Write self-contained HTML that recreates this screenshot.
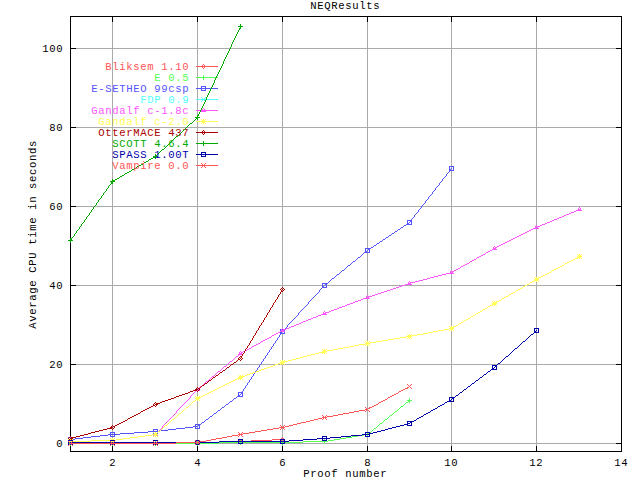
<!DOCTYPE html>
<html><head><meta charset="utf-8"><title>NEQResults</title>
<style>
html,body{margin:0;padding:0;background:#fff;}
svg{display:block;}
text{font-family:"Liberation Mono","DejaVu Sans Mono",monospace;font-size:10.6px;letter-spacing:0.633px;}
</style></head><body>
<svg width="640" height="480" viewBox="0 0 640 480" shape-rendering="crispEdges">
<rect width="640" height="480" fill="#fff"/>
<path fill="#aaaaaa" d="M71 48h550v1h-550zM71 127h550v1h-550zM71 206h550v1h-550zM71 285h550v1h-550zM71 364h550v1h-550zM71 443h550v1h-550zM112 17v31h1v-31zM112 49v78h1v-78zM112 128v78h1v-78zM112 207v78h1v-78zM112 286v78h1v-78zM112 365v78h1v-78zM112 444v7h1v-7zM197 17v31h1v-31zM197 49v78h1v-78zM197 128v78h1v-78zM197 207v78h1v-78zM197 286v78h1v-78zM197 365v78h1v-78zM197 444v7h1v-7zM282 17v31h1v-31zM282 49v78h1v-78zM282 128v78h1v-78zM282 207v78h1v-78zM282 286v78h1v-78zM282 365v78h1v-78zM282 444v7h1v-7zM367 17v31h1v-31zM367 49v78h1v-78zM367 128v78h1v-78zM367 207v78h1v-78zM367 286v78h1v-78zM367 365v78h1v-78zM367 444v7h1v-7zM451 17v31h1v-31zM451 49v78h1v-78zM451 128v78h1v-78zM451 207v78h1v-78zM451 286v78h1v-78zM451 365v78h1v-78zM451 444v7h1v-7zM536 17v31h1v-31zM536 49v78h1v-78zM536 128v78h1v-78zM536 207v78h1v-78zM536 286v78h1v-78zM536 365v78h1v-78zM536 444v7h1v-7z"/>
<path fill="#000" d="M70 16h552v1h-552zM70 48h6v1h-6zM616 48h6v1h-6zM70 127h6v1h-6zM616 127h6v1h-6zM70 206h6v1h-6zM616 206h6v1h-6zM70 285h6v1h-6zM616 285h6v1h-6zM70 364h6v1h-6zM616 364h6v1h-6zM70 443h6v1h-6zM616 443h6v1h-6zM70 451h552v1h-552zM70 17v31h1v-31zM70 49v78h1v-78zM70 128v78h1v-78zM70 207v78h1v-78zM70 286v78h1v-78zM70 365v78h1v-78zM70 444v7h1v-7zM112 17v5h1v-5zM112 446v5h1v-5zM197 17v5h1v-5zM197 446v5h1v-5zM282 17v5h1v-5zM282 446v5h1v-5zM367 17v5h1v-5zM367 446v5h1v-5zM451 17v5h1v-5zM451 446v5h1v-5zM536 17v5h1v-5zM536 446v5h1v-5zM621 17v31h1v-31zM621 49v78h1v-78zM621 128v78h1v-78zM621 207v78h1v-78zM621 286v78h1v-78zM621 365v78h1v-78zM621 444v7h1v-7z"/>
<text x="56.3" y="447" fill="#000">0</text>
<text x="49.3" y="368" fill="#000">20</text>
<text x="49.3" y="289" fill="#000">40</text>
<text x="49.3" y="210" fill="#000">60</text>
<text x="49.3" y="131" fill="#000">80</text>
<text x="42.3" y="52" fill="#000">100</text>
<text x="109.3" y="466" fill="#000">2</text>
<text x="194.3" y="466" fill="#000">4</text>
<text x="279.3" y="466" fill="#000">6</text>
<text x="364.3" y="466" fill="#000">8</text>
<text x="444.3" y="466" fill="#000">10</text>
<text x="529.3" y="466" fill="#000">12</text>
<text x="614.3" y="466" fill="#000">14</text>
<text x="310.3" y="9" fill="#000">NEQResults</text>
<text x="303.3" y="477" fill="#000">Proof number</text>
<text transform="translate(36 328.7) rotate(-90)" fill="#000">Average CPU time in seconds</text>
<text x="105.3" y="70" fill="#ff5555">Bliksem 1.10</text>
<path fill="#ff5555" d="M196 66h22v1h-22zM272 439h11v1h-11zM251 440h21v1h-21zM219 441h32v1h-32zM176 442h43v1h-43zM70 443h106v1h-106zM68 443v1h1v-1zM69 442v1h1v-1zM69 444v1h1v-1zM70 441v1h1v-1zM70 445v1h1v-1zM71 442v1h1v-1zM71 444v1h1v-1zM111 442v1h1v-1zM111 444v1h1v-1zM112 441v1h1v-1zM112 445v1h1v-1zM113 442v1h1v-1zM113 444v1h1v-1zM154 442v1h1v-1zM154 444v1h1v-1zM155 441v1h1v-1zM155 445v1h1v-1zM156 442v1h1v-1zM156 444v1h1v-1zM196 441v1h1v-1zM196 443v1h1v-1zM197 440v1h1v-1zM197 444v1h1v-1zM198 441v1h1v-1zM198 443v1h1v-1zM202 65v1h1v-1zM202 67v1h1v-1zM203 64v1h1v-1zM203 68v1h1v-1zM204 65v1h1v-1zM204 67v1h1v-1zM239 440v1h1v-1zM239 442v1h1v-1zM240 439v1h1v-1zM240 443v1h1v-1zM241 440v1h1v-1zM241 442v1h1v-1zM281 438v1h1v-1zM281 440v1h1v-1zM282 437v1h1v-1zM282 441v1h1v-1zM283 438v1h1v-1zM283 440v1h1v-1zM284 439v1h1v-1z"/>
<text x="154.3" y="81" fill="#55ff55">E 0.5</text>
<path fill="#55ff55" d="M196 77h22v1h-22zM407 400h5v1h-5zM408 401h2v1h-2zM406 402h2v1h-2zM401 406h2v1h-2zM395 411h2v1h-2zM390 415h2v1h-2zM385 419h2v1h-2zM380 423h2v1h-2zM374 428h2v1h-2zM369 432h2v1h-2zM367 433h2v1h-2zM364 434h6v1h-6zM358 435h6v1h-6zM352 436h6v1h-6zM346 437h6v1h-6zM340 438h6v1h-6zM334 439h6v1h-6zM328 440h6v1h-6zM303 441h25v1h-25zM219 442h84v1h-84zM68 443h151v1h-151zM70 441v2h1v-2zM70 444v2h1v-2zM112 441v2h1v-2zM112 444v2h1v-2zM155 441v2h1v-2zM155 444v2h1v-2zM197 441v2h1v-2zM197 444v2h1v-2zM203 75v2h1v-2zM203 78v2h1v-2zM240 440v2h1v-2zM240 443v2h1v-2zM282 440v2h1v-2zM282 443v2h1v-2zM324 439v2h1v-2zM324 442v2h1v-2zM367 432v1h1v-1zM367 435v2h1v-2zM371 431v1h1v-1zM372 430v1h1v-1zM373 429v1h1v-1zM376 427v1h1v-1zM377 426v1h1v-1zM378 425v1h1v-1zM379 424v1h1v-1zM382 422v1h1v-1zM383 421v1h1v-1zM384 420v1h1v-1zM387 418v1h1v-1zM388 417v1h1v-1zM389 416v1h1v-1zM392 414v1h1v-1zM393 413v1h1v-1zM394 412v1h1v-1zM397 410v1h1v-1zM398 409v1h1v-1zM399 408v1h1v-1zM400 407v1h1v-1zM403 405v1h1v-1zM404 404v1h1v-1zM405 403v1h1v-1zM409 398v2h1v-2zM409 402v1h1v-1z"/>
<text x="91.3" y="92" fill="#5555ff">E-SETHEO 99csp</text>
<path fill="#5555ff" d="M201 86h5v1h-5zM196 88h22v1h-22zM201 90h5v1h-5zM449 166h5v1h-5zM449 169h2v1h-2zM449 170h5v1h-5zM407 220h5v1h-5zM410 221h2v1h-2zM407 223h2v1h-2zM406 224h6v1h-6zM404 225h2v1h-2zM401 227h2v1h-2zM398 229h2v1h-2zM395 231h2v1h-2zM392 233h2v1h-2zM389 235h2v1h-2zM386 237h2v1h-2zM383 239h2v1h-2zM380 241h2v1h-2zM377 243h2v1h-2zM374 245h2v1h-2zM371 247h2v1h-2zM365 248h6v1h-6zM368 249h2v1h-2zM365 251h2v1h-2zM364 252h6v1h-6zM358 257h2v1h-2zM353 261h2v1h-2zM348 265h2v1h-2zM342 270h2v1h-2zM337 274h2v1h-2zM332 278h2v1h-2zM322 283h6v1h-6zM325 284h2v1h-2zM322 286h2v1h-2zM322 287h5v1h-5zM280 329h5v1h-5zM283 330h2v1h-2zM280 332h2v1h-2zM280 333h5v1h-5zM238 392h5v1h-5zM241 393h2v1h-2zM238 395h2v1h-2zM237 396h6v1h-6zM234 398h2v1h-2zM230 401h2v1h-2zM226 404h2v1h-2zM222 407h2v1h-2zM218 410h2v1h-2zM214 413h2v1h-2zM210 416h2v1h-2zM206 419h2v1h-2zM202 422h2v1h-2zM195 424h6v1h-6zM198 425h2v1h-2zM193 426h5v1h-5zM185 427h8v1h-8zM176 428h9v1h-9zM195 428h5v1h-5zM153 429h5v1h-5zM168 429h8v1h-8zM160 430h8v1h-8zM148 431h12v1h-12zM110 432h5v1h-5zM134 432h14v1h-14zM120 433h14v1h-14zM153 433h5v1h-5zM108 434h12v1h-12zM100 435h8v1h-8zM91 436h9v1h-9zM110 436h5v1h-5zM68 437h5v1h-5zM83 437h8v1h-8zM75 438h8v1h-8zM70 439h5v1h-5zM68 441h5v1h-5zM68 438v3h1v-3zM72 438v1h1v-1zM72 440v1h1v-1zM110 433v1h1v-1zM110 435v1h1v-1zM114 433v1h1v-1zM114 435v1h1v-1zM153 430v1h1v-1zM153 432v1h1v-1zM157 430v1h1v-1zM157 432v1h1v-1zM195 425v1h1v-1zM195 427v1h1v-1zM199 426v2h1v-2zM201 87v1h1v-1zM201 89v1h1v-1zM201 423v1h1v-1zM204 421v1h1v-1zM205 87v1h1v-1zM205 89v1h1v-1zM205 420v1h1v-1zM208 418v1h1v-1zM209 417v1h1v-1zM212 415v1h1v-1zM213 414v1h1v-1zM216 412v1h1v-1zM217 411v1h1v-1zM220 409v1h1v-1zM221 408v1h1v-1zM224 406v1h1v-1zM225 405v1h1v-1zM228 403v1h1v-1zM229 402v1h1v-1zM232 400v1h1v-1zM233 399v1h1v-1zM236 397v1h1v-1zM238 393v2h1v-2zM240 394v1h1v-1zM242 391v1h1v-1zM242 394v2h1v-2zM243 389v2h1v-2zM244 388v1h1v-1zM245 386v2h1v-2zM246 385v1h1v-1zM247 383v2h1v-2zM248 382v1h1v-1zM249 380v2h1v-2zM250 379v1h1v-1zM251 377v2h1v-2zM252 376v1h1v-1zM253 374v2h1v-2zM254 373v1h1v-1zM255 371v2h1v-2zM256 370v1h1v-1zM257 368v2h1v-2zM258 367v1h1v-1zM259 365v2h1v-2zM260 364v1h1v-1zM261 362v2h1v-2zM262 361v1h1v-1zM263 359v2h1v-2zM264 358v1h1v-1zM265 356v2h1v-2zM266 355v1h1v-1zM267 353v2h1v-2zM268 352v1h1v-1zM269 350v2h1v-2zM270 349v1h1v-1zM271 347v2h1v-2zM272 346v1h1v-1zM273 344v2h1v-2zM274 343v1h1v-1zM275 341v2h1v-2zM276 340v1h1v-1zM277 338v2h1v-2zM278 337v1h1v-1zM279 335v2h1v-2zM280 330v2h1v-2zM280 334v1h1v-1zM282 331v1h1v-1zM284 331v2h1v-2zM285 328v1h1v-1zM286 327v1h1v-1zM287 325v2h1v-2zM288 324v1h1v-1zM289 323v1h1v-1zM290 322v1h1v-1zM291 321v1h1v-1zM292 320v1h1v-1zM293 319v1h1v-1zM294 318v1h1v-1zM295 317v1h1v-1zM296 316v1h1v-1zM297 315v1h1v-1zM298 313v2h1v-2zM299 312v1h1v-1zM300 311v1h1v-1zM301 310v1h1v-1zM302 309v1h1v-1zM303 308v1h1v-1zM304 307v1h1v-1zM305 306v1h1v-1zM306 305v1h1v-1zM307 304v1h1v-1zM308 302v2h1v-2zM309 301v1h1v-1zM310 300v1h1v-1zM311 299v1h1v-1zM312 298v1h1v-1zM313 297v1h1v-1zM314 296v1h1v-1zM315 295v1h1v-1zM316 294v1h1v-1zM317 293v1h1v-1zM318 292v1h1v-1zM319 290v2h1v-2zM320 289v1h1v-1zM321 288v1h1v-1zM322 284v2h1v-2zM324 285v1h1v-1zM326 285v2h1v-2zM328 282v1h1v-1zM329 281v1h1v-1zM330 280v1h1v-1zM331 279v1h1v-1zM334 277v1h1v-1zM335 276v1h1v-1zM336 275v1h1v-1zM339 273v1h1v-1zM340 272v1h1v-1zM341 271v1h1v-1zM344 269v1h1v-1zM345 268v1h1v-1zM346 267v1h1v-1zM347 266v1h1v-1zM350 264v1h1v-1zM351 263v1h1v-1zM352 262v1h1v-1zM355 260v1h1v-1zM356 259v1h1v-1zM357 258v1h1v-1zM360 256v1h1v-1zM361 255v1h1v-1zM362 254v1h1v-1zM363 253v1h1v-1zM365 249v2h1v-2zM367 250v1h1v-1zM369 250v2h1v-2zM373 246v1h1v-1zM376 244v1h1v-1zM379 242v1h1v-1zM382 240v1h1v-1zM385 238v1h1v-1zM388 236v1h1v-1zM391 234v1h1v-1zM394 232v1h1v-1zM397 230v1h1v-1zM400 228v1h1v-1zM403 226v1h1v-1zM407 221v2h1v-2zM409 222v1h1v-1zM411 219v1h1v-1zM411 222v2h1v-2zM412 218v1h1v-1zM413 217v1h1v-1zM414 215v2h1v-2zM415 214v1h1v-1zM416 213v1h1v-1zM417 212v1h1v-1zM418 210v2h1v-2zM419 209v1h1v-1zM420 208v1h1v-1zM421 206v2h1v-2zM422 205v1h1v-1zM423 204v1h1v-1zM424 203v1h1v-1zM425 201v2h1v-2zM426 200v1h1v-1zM427 199v1h1v-1zM428 197v2h1v-2zM429 196v1h1v-1zM430 195v1h1v-1zM431 194v1h1v-1zM432 192v2h1v-2zM433 191v1h1v-1zM434 190v1h1v-1zM435 188v2h1v-2zM436 187v1h1v-1zM437 186v1h1v-1zM438 185v1h1v-1zM439 183v2h1v-2zM440 182v1h1v-1zM441 181v1h1v-1zM442 179v2h1v-2zM443 178v1h1v-1zM444 177v1h1v-1zM445 176v1h1v-1zM446 174v2h1v-2zM447 173v1h1v-1zM448 172v1h1v-1zM449 167v2h1v-2zM449 171v1h1v-1zM451 168v1h1v-1zM453 167v3h1v-3z"/>
<text x="140.3" y="103" fill="#55ffff">FDP 0.9</text>
<path fill="#55ffff" d="M196 99h22v1h-22zM201 97v1h1v-1zM201 101v1h1v-1zM202 98v1h1v-1zM202 100v1h1v-1zM204 98v1h1v-1zM204 100v1h1v-1zM205 97v1h1v-1zM205 101v1h1v-1z"/>
<text x="91.3" y="114" fill="#ff55ff">Gandalf c-1.8c</text>
<path fill="#ff55ff" d="M196 110h22v1h-22zM201 111h5v1h-5zM578 209h3v1h-3zM576 210h6v1h-6zM574 211h2v1h-2zM571 212h3v1h-3zM569 213h2v1h-2zM566 214h3v1h-3zM564 215h2v1h-2zM562 216h2v1h-2zM559 217h3v1h-3zM557 218h2v1h-2zM554 219h3v1h-3zM552 220h2v1h-2zM550 221h2v1h-2zM547 222h3v1h-3zM545 223h2v1h-2zM542 224h3v1h-3zM540 225h2v1h-2zM537 226h3v1h-3zM535 227h3v1h-3zM533 228h6v1h-6zM531 229h2v1h-2zM529 230h2v1h-2zM527 231h2v1h-2zM525 232h2v1h-2zM523 233h2v1h-2zM521 234h2v1h-2zM519 235h2v1h-2zM517 236h2v1h-2zM515 237h2v1h-2zM513 238h2v1h-2zM511 239h2v1h-2zM509 240h2v1h-2zM507 241h2v1h-2zM505 242h2v1h-2zM503 243h2v1h-2zM501 244h2v1h-2zM499 245h2v1h-2zM497 246h2v1h-2zM495 247h2v1h-2zM493 248h3v1h-3zM492 249h5v1h-5zM490 250h2v1h-2zM488 251h2v1h-2zM486 252h2v1h-2zM483 254h2v1h-2zM481 255h2v1h-2zM479 256h2v1h-2zM477 257h2v1h-2zM474 259h2v1h-2zM472 260h2v1h-2zM470 261h2v1h-2zM467 263h2v1h-2zM465 264h2v1h-2zM463 265h2v1h-2zM461 266h2v1h-2zM458 268h2v1h-2zM456 269h2v1h-2zM454 270h2v1h-2zM452 271h2v1h-2zM450 272h3v1h-3zM446 273h8v1h-8zM442 274h4v1h-4zM438 275h4v1h-4zM434 276h4v1h-4zM430 277h4v1h-4zM427 278h3v1h-3zM423 279h4v1h-4zM419 280h4v1h-4zM415 281h4v1h-4zM410 282h5v1h-5zM408 283h3v1h-3zM405 284h7v1h-7zM402 285h3v1h-3zM399 286h3v1h-3zM396 287h3v1h-3zM393 288h3v1h-3zM390 289h3v1h-3zM387 290h3v1h-3zM384 291h3v1h-3zM381 292h3v1h-3zM378 293h3v1h-3zM375 294h3v1h-3zM372 295h3v1h-3zM368 296h4v1h-4zM366 297h3v1h-3zM363 298h7v1h-7zM361 299h2v1h-2zM358 300h3v1h-3zM355 301h3v1h-3zM353 302h2v1h-2zM350 303h3v1h-3zM347 304h3v1h-3zM345 305h2v1h-2zM342 306h3v1h-3zM339 307h3v1h-3zM337 308h2v1h-2zM334 309h3v1h-3zM331 310h3v1h-3zM329 311h2v1h-2zM325 312h4v1h-4zM323 313h3v1h-3zM321 314h6v1h-6zM318 315h3v1h-3zM316 316h2v1h-2zM313 317h3v1h-3zM311 318h2v1h-2zM308 319h3v1h-3zM306 320h2v1h-2zM303 321h3v1h-3zM301 322h2v1h-2zM299 323h2v1h-2zM296 324h3v1h-3zM294 325h2v1h-2zM291 326h3v1h-3zM289 327h2v1h-2zM286 328h3v1h-3zM283 329h3v1h-3zM281 330h3v1h-3zM280 331h5v1h-5zM278 332h2v1h-2zM276 333h2v1h-2zM274 334h2v1h-2zM272 335h2v1h-2zM269 337h2v1h-2zM267 338h2v1h-2zM265 339h2v1h-2zM263 340h2v1h-2zM261 341h2v1h-2zM258 343h2v1h-2zM256 344h2v1h-2zM254 345h2v1h-2zM252 346h2v1h-2zM249 348h2v1h-2zM247 349h2v1h-2zM245 350h2v1h-2zM243 351h2v1h-2zM241 352h2v1h-2zM239 353h3v1h-3zM238 354h5v1h-5zM236 356h2v1h-2zM230 361h2v1h-2zM224 366h2v1h-2zM218 371h2v1h-2zM212 376h2v1h-2zM206 381h2v1h-2zM200 386h2v1h-2zM196 389h3v1h-3zM195 390h5v1h-5zM154 434h3v1h-3zM153 435h5v1h-5zM154 433v1h1v-1zM155 432v1h1v-1zM156 433v1h1v-1zM157 432v1h1v-1zM158 431v1h1v-1zM159 430v1h1v-1zM160 429v1h1v-1zM161 428v1h1v-1zM162 426v2h1v-2zM163 425v1h1v-1zM164 424v1h1v-1zM165 423v1h1v-1zM166 422v1h1v-1zM167 421v1h1v-1zM168 420v1h1v-1zM169 419v1h1v-1zM170 418v1h1v-1zM171 417v1h1v-1zM172 416v1h1v-1zM173 415v1h1v-1zM174 414v1h1v-1zM175 413v1h1v-1zM176 411v2h1v-2zM177 410v1h1v-1zM178 409v1h1v-1zM179 408v1h1v-1zM180 407v1h1v-1zM181 406v1h1v-1zM182 405v1h1v-1zM183 404v1h1v-1zM184 403v1h1v-1zM185 402v1h1v-1zM186 401v1h1v-1zM187 400v1h1v-1zM188 399v1h1v-1zM189 398v1h1v-1zM190 396v2h1v-2zM191 395v1h1v-1zM192 394v1h1v-1zM193 393v1h1v-1zM194 392v1h1v-1zM195 391v1h1v-1zM196 388v1h1v-1zM197 387v1h1v-1zM198 388v1h1v-1zM199 387v1h1v-1zM202 109v1h1v-1zM202 385v1h1v-1zM203 108v1h1v-1zM203 384v1h1v-1zM204 109v1h1v-1zM204 383v1h1v-1zM205 382v1h1v-1zM208 380v1h1v-1zM209 379v1h1v-1zM210 378v1h1v-1zM211 377v1h1v-1zM214 375v1h1v-1zM215 374v1h1v-1zM216 373v1h1v-1zM217 372v1h1v-1zM220 370v1h1v-1zM221 369v1h1v-1zM222 368v1h1v-1zM223 367v1h1v-1zM226 365v1h1v-1zM227 364v1h1v-1zM228 363v1h1v-1zM229 362v1h1v-1zM232 360v1h1v-1zM233 359v1h1v-1zM234 358v1h1v-1zM235 357v1h1v-1zM238 355v1h1v-1zM239 352v1h1v-1zM240 351v1h1v-1zM251 347v1h1v-1zM260 342v1h1v-1zM271 336v1h1v-1zM281 329v1h1v-1zM282 328v1h1v-1zM323 312v1h1v-1zM324 311v1h1v-1zM366 296v1h1v-1zM367 295v1h1v-1zM408 282v1h1v-1zM409 281v1h1v-1zM450 271v1h1v-1zM451 270v1h1v-1zM460 267v1h1v-1zM469 262v1h1v-1zM476 258v1h1v-1zM485 253v1h1v-1zM493 247v1h1v-1zM494 246v1h1v-1zM535 226v1h1v-1zM536 225v1h1v-1zM578 208v1h1v-1zM579 207v1h1v-1zM580 208v1h1v-1z"/>
<text x="98.3" y="125" fill="#ffff55">Gandalf c-2.0</text>
<path fill="#ffff55" d="M202 120h3v1h-3zM196 121h22v1h-22zM202 122h3v1h-3zM578 255h3v1h-3zM577 256h5v1h-5zM577 257h4v1h-4zM575 258h3v1h-3zM573 259h2v1h-2zM571 260h2v1h-2zM569 261h2v1h-2zM567 262h2v1h-2zM565 263h2v1h-2zM562 265h2v1h-2zM560 266h2v1h-2zM558 267h2v1h-2zM556 268h2v1h-2zM554 269h2v1h-2zM552 270h2v1h-2zM549 272h2v1h-2zM547 273h2v1h-2zM545 274h2v1h-2zM543 275h2v1h-2zM541 276h2v1h-2zM538 277h3v1h-3zM535 278h4v1h-4zM534 279h5v1h-5zM534 280h4v1h-4zM532 281h3v1h-3zM530 282h2v1h-2zM527 284h2v1h-2zM525 285h2v1h-2zM523 286h2v1h-2zM520 288h2v1h-2zM518 289h2v1h-2zM516 290h2v1h-2zM513 292h2v1h-2zM511 293h2v1h-2zM509 294h2v1h-2zM506 296h2v1h-2zM504 297h2v1h-2zM502 298h2v1h-2zM499 300h2v1h-2zM496 301h3v1h-3zM493 302h4v1h-4zM492 303h5v1h-5zM492 304h4v1h-4zM490 305h3v1h-3zM488 306h2v1h-2zM485 308h2v1h-2zM483 309h2v1h-2zM480 311h2v1h-2zM478 312h2v1h-2zM476 313h2v1h-2zM473 315h2v1h-2zM471 316h2v1h-2zM468 318h2v1h-2zM466 319h2v1h-2zM464 320h2v1h-2zM461 322h2v1h-2zM459 323h2v1h-2zM456 325h2v1h-2zM453 326h3v1h-3zM450 327h4v1h-4zM449 328h5v1h-5zM444 329h5v1h-5zM450 329h3v1h-3zM438 330h6v1h-6zM433 331h5v1h-5zM428 332h5v1h-5zM423 333h5v1h-5zM417 334h6v1h-6zM408 335h3v1h-3zM412 335h5v1h-5zM406 336h6v1h-6zM400 337h6v1h-6zM408 337h3v1h-3zM394 338h6v1h-6zM388 339h6v1h-6zM382 340h6v1h-6zM376 341h6v1h-6zM366 342h3v1h-3zM370 342h6v1h-6zM365 343h5v1h-5zM359 344h6v1h-6zM366 344h3v1h-3zM354 345h5v1h-5zM349 346h5v1h-5zM343 347h6v1h-6zM338 348h5v1h-5zM333 349h5v1h-5zM323 350h3v1h-3zM327 350h6v1h-6zM322 351h5v1h-5zM319 352h7v1h-7zM315 353h4v1h-4zM311 354h4v1h-4zM307 355h4v1h-4zM303 356h4v1h-4zM300 357h3v1h-3zM296 358h4v1h-4zM292 359h4v1h-4zM288 360h4v1h-4zM281 361h7v1h-7zM280 362h5v1h-5zM278 363h6v1h-6zM275 364h3v1h-3zM273 365h2v1h-2zM270 366h3v1h-3zM267 367h3v1h-3zM264 368h3v1h-3zM261 369h3v1h-3zM259 370h2v1h-2zM256 371h3v1h-3zM253 372h3v1h-3zM250 373h3v1h-3zM247 374h3v1h-3zM245 375h2v1h-2zM239 376h6v1h-6zM238 377h5v1h-5zM237 378h5v1h-5zM235 379h2v1h-2zM233 380h2v1h-2zM231 381h2v1h-2zM229 382h2v1h-2zM227 383h2v1h-2zM225 384h2v1h-2zM223 385h2v1h-2zM221 386h2v1h-2zM219 387h2v1h-2zM217 388h2v1h-2zM215 389h2v1h-2zM213 390h2v1h-2zM211 391h2v1h-2zM209 392h2v1h-2zM207 393h2v1h-2zM205 394h2v1h-2zM203 395h2v1h-2zM201 396h2v1h-2zM196 397h5v1h-5zM195 398h5v1h-5zM196 399h3v1h-3zM193 401h2v1h-2zM186 407h2v1h-2zM179 413h2v1h-2zM172 419h2v1h-2zM165 425h2v1h-2zM158 431h2v1h-2zM154 433h3v1h-3zM152 434h6v1h-6zM145 435h7v1h-7zM154 435h3v1h-3zM138 436h7v1h-7zM130 437h8v1h-8zM123 438h7v1h-7zM111 439h3v1h-3zM116 439h7v1h-7zM69 440h3v1h-3zM91 440h25v1h-25zM68 441h23v1h-23zM111 441h3v1h-3zM69 442h3v1h-3zM68 439v1h1v-1zM68 443v1h1v-1zM70 439v1h1v-1zM70 443v1h1v-1zM72 439v1h1v-1zM72 443v1h1v-1zM110 438v1h1v-1zM110 442v1h1v-1zM112 438v1h1v-1zM112 442v1h1v-1zM114 438v1h1v-1zM114 442v1h1v-1zM153 432v1h1v-1zM153 436v1h1v-1zM155 432v1h1v-1zM155 436v1h1v-1zM157 432v1h1v-1zM157 436v1h1v-1zM160 430v1h1v-1zM161 429v1h1v-1zM162 428v1h1v-1zM163 427v1h1v-1zM164 426v1h1v-1zM167 424v1h1v-1zM168 423v1h1v-1zM169 422v1h1v-1zM170 421v1h1v-1zM171 420v1h1v-1zM174 418v1h1v-1zM175 417v1h1v-1zM176 416v1h1v-1zM177 415v1h1v-1zM178 414v1h1v-1zM181 412v1h1v-1zM182 411v1h1v-1zM183 410v1h1v-1zM184 409v1h1v-1zM185 408v1h1v-1zM188 406v1h1v-1zM189 405v1h1v-1zM190 404v1h1v-1zM191 403v1h1v-1zM192 402v1h1v-1zM195 396v1h1v-1zM195 400v1h1v-1zM197 396v1h1v-1zM197 400v1h1v-1zM199 396v1h1v-1zM199 400v1h1v-1zM201 119v1h1v-1zM201 123v1h1v-1zM203 119v1h1v-1zM203 123v1h1v-1zM205 119v1h1v-1zM205 123v1h1v-1zM238 375v1h1v-1zM238 379v1h1v-1zM240 375v1h1v-1zM240 379v1h1v-1zM242 375v1h1v-1zM242 379v1h1v-1zM280 360v1h1v-1zM280 364v1h1v-1zM282 360v1h1v-1zM282 364v1h1v-1zM284 360v1h1v-1zM284 364v1h1v-1zM322 349v1h1v-1zM322 353v1h1v-1zM324 349v1h1v-1zM324 353v1h1v-1zM326 349v1h1v-1zM326 353v1h1v-1zM365 341v1h1v-1zM365 345v1h1v-1zM367 341v1h1v-1zM367 345v1h1v-1zM369 341v1h1v-1zM369 345v1h1v-1zM407 334v1h1v-1zM407 338v1h1v-1zM409 334v1h1v-1zM409 338v1h1v-1zM411 334v1h1v-1zM411 338v1h1v-1zM449 326v1h1v-1zM449 330v1h1v-1zM451 326v1h1v-1zM451 330v1h1v-1zM453 330v1h1v-1zM458 324v1h1v-1zM463 321v1h1v-1zM470 317v1h1v-1zM475 314v1h1v-1zM482 310v1h1v-1zM487 307v1h1v-1zM492 301v1h1v-1zM494 301v1h1v-1zM494 305v1h1v-1zM496 305v1h1v-1zM501 299v1h1v-1zM508 295v1h1v-1zM515 291v1h1v-1zM522 287v1h1v-1zM529 283v1h1v-1zM534 277v1h1v-1zM536 277v1h1v-1zM536 281v1h1v-1zM538 281v1h1v-1zM551 271v1h1v-1zM564 264v1h1v-1zM577 254v1h1v-1zM579 254v1h1v-1zM579 258v1h1v-1zM581 254v1h1v-1zM581 258v1h1v-1z"/>
<text x="98.3" y="136" fill="#aa0000">OtterMACE 437</text>
<path fill="#aa0000" d="M196 132h22v1h-22zM281 291h2v1h-2zM240 356h2v1h-2zM238 359h2v1h-2zM234 362h2v1h-2zM231 364h2v1h-2zM227 367h2v1h-2zM223 370h2v1h-2zM220 372h2v1h-2zM216 375h2v1h-2zM213 377h2v1h-2zM209 380h2v1h-2zM205 383h2v1h-2zM202 385h2v1h-2zM198 388h2v1h-2zM195 389h3v1h-3zM193 390h4v1h-4zM190 391h3v1h-3zM188 392h2v1h-2zM185 393h3v1h-3zM182 394h3v1h-3zM179 395h3v1h-3zM176 396h3v1h-3zM174 397h2v1h-2zM171 398h3v1h-3zM168 399h3v1h-3zM165 400h3v1h-3zM162 401h3v1h-3zM160 402h2v1h-2zM156 403h4v1h-4zM155 404h3v1h-3zM153 405h2v1h-2zM151 406h2v1h-2zM149 407h2v1h-2zM147 408h2v1h-2zM145 409h2v1h-2zM143 410h2v1h-2zM141 411h2v1h-2zM138 413h2v1h-2zM136 414h2v1h-2zM134 415h2v1h-2zM132 416h2v1h-2zM130 417h2v1h-2zM128 418h2v1h-2zM125 420h2v1h-2zM123 421h2v1h-2zM121 422h2v1h-2zM119 423h2v1h-2zM117 424h2v1h-2zM115 425h2v1h-2zM113 426h2v1h-2zM110 427h3v1h-3zM107 428h5v1h-5zM103 429h4v1h-4zM99 430h4v1h-4zM95 431h4v1h-4zM91 432h4v1h-4zM88 433h3v1h-3zM84 434h4v1h-4zM80 435h4v1h-4zM76 436h4v1h-4zM71 437h5v1h-5zM70 438h3v1h-3zM68 438v1h1v-1zM69 437v1h1v-1zM69 439v1h1v-1zM70 436v1h1v-1zM70 440v1h1v-1zM71 439v1h1v-1zM111 426v1h1v-1zM112 425v1h1v-1zM112 429v1h1v-1zM113 428v1h1v-1zM114 427v1h1v-1zM127 419v1h1v-1zM140 412v1h1v-1zM153 404v1h1v-1zM154 403v1h1v-1zM155 402v1h1v-1zM155 406v1h1v-1zM156 405v1h1v-1zM196 388v1h1v-1zM197 387v1h1v-1zM197 391v1h1v-1zM198 390v1h1v-1zM199 389v1h1v-1zM200 387v1h1v-1zM201 386v1h1v-1zM202 131v1h1v-1zM202 133v1h1v-1zM203 130v1h1v-1zM203 134v1h1v-1zM204 131v1h1v-1zM204 133v1h1v-1zM204 384v1h1v-1zM207 382v1h1v-1zM208 381v1h1v-1zM211 379v1h1v-1zM212 378v1h1v-1zM215 376v1h1v-1zM218 374v1h1v-1zM219 373v1h1v-1zM222 371v1h1v-1zM225 369v1h1v-1zM226 368v1h1v-1zM229 366v1h1v-1zM230 365v1h1v-1zM233 363v1h1v-1zM236 361v1h1v-1zM237 360v1h1v-1zM238 358v1h1v-1zM239 357v1h1v-1zM240 358v1h1v-1zM240 360v1h1v-1zM241 357v1h1v-1zM241 359v1h1v-1zM242 354v2h1v-2zM242 358v1h1v-1zM243 353v1h1v-1zM244 351v2h1v-2zM245 349v2h1v-2zM246 348v1h1v-1zM247 346v2h1v-2zM248 345v1h1v-1zM249 343v2h1v-2zM250 341v2h1v-2zM251 340v1h1v-1zM252 338v2h1v-2zM253 336v2h1v-2zM254 335v1h1v-1zM255 333v2h1v-2zM256 331v2h1v-2zM257 330v1h1v-1zM258 328v2h1v-2zM259 326v2h1v-2zM260 325v1h1v-1zM261 323v2h1v-2zM262 322v1h1v-1zM263 320v2h1v-2zM264 318v2h1v-2zM265 317v1h1v-1zM266 315v2h1v-2zM267 313v2h1v-2zM268 312v1h1v-1zM269 310v2h1v-2zM270 308v2h1v-2zM271 307v1h1v-1zM272 305v2h1v-2zM273 303v2h1v-2zM274 302v1h1v-1zM275 300v2h1v-2zM276 299v1h1v-1zM277 297v2h1v-2zM278 295v2h1v-2zM279 294v1h1v-1zM280 289v1h1v-1zM280 292v2h1v-2zM281 288v1h1v-1zM281 290v1h1v-1zM282 287v1h1v-1zM282 289v1h1v-1zM283 288v1h1v-1zM283 290v1h1v-1zM284 289v1h1v-1z"/>
<text x="112.3" y="147" fill="#00aa00">SCOTT 4.6.4</text>
<path fill="#00aa00" d="M238 26h5v1h-5zM239 28h2v1h-2zM197 115h2v1h-2zM195 117h5v1h-5zM196 118h2v1h-2zM190 123h2v1h-2zM176 136h2v1h-2zM196 143h22v1h-22zM162 149h2v1h-2zM155 155h2v1h-2zM153 156h5v1h-5zM153 157h3v1h-3zM151 158h2v1h-2zM149 159h2v1h-2zM146 161h2v1h-2zM144 162h2v1h-2zM141 164h2v1h-2zM139 165h2v1h-2zM137 166h2v1h-2zM134 168h2v1h-2zM132 169h2v1h-2zM129 171h2v1h-2zM127 172h2v1h-2zM125 173h2v1h-2zM122 175h2v1h-2zM120 176h2v1h-2zM117 178h2v1h-2zM115 179h2v1h-2zM112 180h3v1h-3zM110 181h5v1h-5zM111 182h2v1h-2zM111 183h2v1h-2zM70 238h2v1h-2zM70 239h2v1h-2zM68 240h5v1h-5zM70 241v2h1v-2zM72 237v1h1v-1zM73 236v1h1v-1zM74 234v2h1v-2zM75 233v1h1v-1zM76 231v2h1v-2zM77 230v1h1v-1zM78 229v1h1v-1zM79 227v2h1v-2zM80 226v1h1v-1zM81 224v2h1v-2zM82 223v1h1v-1zM83 222v1h1v-1zM84 220v2h1v-2zM85 219v1h1v-1zM86 217v2h1v-2zM87 216v1h1v-1zM88 215v1h1v-1zM89 213v2h1v-2zM90 212v1h1v-1zM91 210v2h1v-2zM92 209v1h1v-1zM93 207v2h1v-2zM94 206v1h1v-1zM95 205v1h1v-1zM96 203v2h1v-2zM97 202v1h1v-1zM98 200v2h1v-2zM99 199v1h1v-1zM100 198v1h1v-1zM101 196v2h1v-2zM102 195v1h1v-1zM103 193v2h1v-2zM104 192v1h1v-1zM105 191v1h1v-1zM106 189v2h1v-2zM107 188v1h1v-1zM108 186v2h1v-2zM109 185v1h1v-1zM110 184v1h1v-1zM112 179v1h1v-1zM119 177v1h1v-1zM124 174v1h1v-1zM131 170v1h1v-1zM136 167v1h1v-1zM143 163v1h1v-1zM148 160v1h1v-1zM155 154v1h1v-1zM155 158v1h1v-1zM157 154v1h1v-1zM158 153v1h1v-1zM159 152v1h1v-1zM160 151v1h1v-1zM161 150v1h1v-1zM164 148v1h1v-1zM165 147v1h1v-1zM166 146v1h1v-1zM167 145v1h1v-1zM168 144v1h1v-1zM169 143v1h1v-1zM170 142v1h1v-1zM171 141v1h1v-1zM172 140v1h1v-1zM173 139v1h1v-1zM174 138v1h1v-1zM175 137v1h1v-1zM178 135v1h1v-1zM179 134v1h1v-1zM180 133v1h1v-1zM181 132v1h1v-1zM182 131v1h1v-1zM183 130v1h1v-1zM184 129v1h1v-1zM185 128v1h1v-1zM186 127v1h1v-1zM187 126v1h1v-1zM188 125v1h1v-1zM189 124v1h1v-1zM192 122v1h1v-1zM193 121v1h1v-1zM194 120v1h1v-1zM195 119v1h1v-1zM197 116v1h1v-1zM197 119v1h1v-1zM198 114v1h1v-1zM199 112v2h1v-2zM200 110v2h1v-2zM201 108v2h1v-2zM202 106v2h1v-2zM203 104v2h1v-2zM203 141v2h1v-2zM203 144v2h1v-2zM204 102v2h1v-2zM205 100v2h1v-2zM206 97v3h1v-3zM207 95v2h1v-2zM208 93v2h1v-2zM209 91v2h1v-2zM210 89v2h1v-2zM211 87v2h1v-2zM212 85v2h1v-2zM213 83v2h1v-2zM214 80v3h1v-3zM215 78v2h1v-2zM216 76v2h1v-2zM217 74v2h1v-2zM218 72v2h1v-2zM219 70v2h1v-2zM220 68v2h1v-2zM221 66v2h1v-2zM222 64v2h1v-2zM223 61v3h1v-3zM224 59v2h1v-2zM225 57v2h1v-2zM226 55v2h1v-2zM227 53v2h1v-2zM228 51v2h1v-2zM229 49v2h1v-2zM230 47v2h1v-2zM231 44v3h1v-3zM232 42v2h1v-2zM233 40v2h1v-2zM234 38v2h1v-2zM235 36v2h1v-2zM236 34v2h1v-2zM237 32v2h1v-2zM238 30v2h1v-2zM239 29v1h1v-1zM240 24v2h1v-2zM240 27v1h1v-1z"/>
<text x="112.3" y="158" fill="#0000aa">SPASS 1.00T</text>
<path fill="#0000aa" d="M201 152h5v1h-5zM196 154h22v1h-22zM201 156h5v1h-5zM534 328h5v1h-5zM534 331h2v1h-2zM534 332h5v1h-5zM531 334h2v1h-2zM523 341h2v1h-2zM515 348h2v1h-2zM506 356h2v1h-2zM498 363h2v1h-2zM492 365h5v1h-5zM495 366h2v1h-2zM492 368h2v1h-2zM491 369h6v1h-6zM488 371h2v1h-2zM484 374h2v1h-2zM480 377h2v1h-2zM476 380h2v1h-2zM472 383h2v1h-2zM468 386h2v1h-2zM464 389h2v1h-2zM460 392h2v1h-2zM456 395h2v1h-2zM449 397h6v1h-6zM452 398h2v1h-2zM449 400h2v1h-2zM447 401h7v1h-7zM445 402h2v1h-2zM442 404h2v1h-2zM440 405h2v1h-2zM438 406h2v1h-2zM435 408h2v1h-2zM433 409h2v1h-2zM431 410h2v1h-2zM428 412h2v1h-2zM426 413h2v1h-2zM424 414h2v1h-2zM421 416h2v1h-2zM419 417h2v1h-2zM417 418h2v1h-2zM414 420h2v1h-2zM407 421h7v1h-7zM410 422h2v1h-2zM407 423h3v1h-3zM404 424h4v1h-4zM400 425h4v1h-4zM407 425h5v1h-5zM396 426h4v1h-4zM392 427h4v1h-4zM388 428h4v1h-4zM385 429h3v1h-3zM381 430h4v1h-4zM377 431h4v1h-4zM365 432h5v1h-5zM373 432h4v1h-4zM369 433h4v1h-4zM362 434h8v1h-8zM351 435h11v1h-11zM322 436h5v1h-5zM341 436h10v1h-10zM365 436h5v1h-5zM330 437h11v1h-11zM317 438h13v1h-13zM238 439h5v1h-5zM280 439h5v1h-5zM303 439h14v1h-14zM68 440h5v1h-5zM110 440h5v1h-5zM153 440h5v1h-5zM195 440h5v1h-5zM289 440h14v1h-14zM322 440h5v1h-5zM219 441h70v1h-70zM70 442h149v1h-149zM238 443h5v1h-5zM280 443h5v1h-5zM68 444h5v1h-5zM110 444h5v1h-5zM153 444h5v1h-5zM195 444h5v1h-5zM68 441v3h1v-3zM72 441v1h1v-1zM72 443v1h1v-1zM110 441v1h1v-1zM110 443v1h1v-1zM114 441v1h1v-1zM114 443v1h1v-1zM153 441v1h1v-1zM153 443v1h1v-1zM157 441v1h1v-1zM157 443v1h1v-1zM195 441v1h1v-1zM195 443v1h1v-1zM199 441v1h1v-1zM199 443v1h1v-1zM201 153v1h1v-1zM201 155v1h1v-1zM205 153v1h1v-1zM205 155v1h1v-1zM238 440v1h1v-1zM238 442v1h1v-1zM242 440v1h1v-1zM242 442v1h1v-1zM280 440v1h1v-1zM280 442v1h1v-1zM284 440v1h1v-1zM284 442v1h1v-1zM322 437v1h1v-1zM322 439v1h1v-1zM326 437v1h1v-1zM326 439v1h1v-1zM365 433v1h1v-1zM365 435v1h1v-1zM369 435v1h1v-1zM407 422v1h1v-1zM411 423v2h1v-2zM416 419v1h1v-1zM423 415v1h1v-1zM430 411v1h1v-1zM437 407v1h1v-1zM444 403v1h1v-1zM449 398v2h1v-2zM451 399v1h1v-1zM453 399v2h1v-2zM455 396v1h1v-1zM458 394v1h1v-1zM459 393v1h1v-1zM462 391v1h1v-1zM463 390v1h1v-1zM466 388v1h1v-1zM467 387v1h1v-1zM470 385v1h1v-1zM471 384v1h1v-1zM474 382v1h1v-1zM475 381v1h1v-1zM478 379v1h1v-1zM479 378v1h1v-1zM482 376v1h1v-1zM483 375v1h1v-1zM486 373v1h1v-1zM487 372v1h1v-1zM490 370v1h1v-1zM492 366v2h1v-2zM494 367v1h1v-1zM496 367v2h1v-2zM497 364v1h1v-1zM500 362v1h1v-1zM501 361v1h1v-1zM502 360v1h1v-1zM503 359v1h1v-1zM504 358v1h1v-1zM505 357v1h1v-1zM508 355v1h1v-1zM509 354v1h1v-1zM510 353v1h1v-1zM511 352v1h1v-1zM512 351v1h1v-1zM513 350v1h1v-1zM514 349v1h1v-1zM517 347v1h1v-1zM518 346v1h1v-1zM519 345v1h1v-1zM520 344v1h1v-1zM521 343v1h1v-1zM522 342v1h1v-1zM525 340v1h1v-1zM526 339v1h1v-1zM527 338v1h1v-1zM528 337v1h1v-1zM529 336v1h1v-1zM530 335v1h1v-1zM533 333v1h1v-1zM534 329v2h1v-2zM536 330v1h1v-1zM538 329v3h1v-3z"/>
<text x="112.3" y="169" fill="#ff5555">Vampire 0.0</text>
<path fill="#ff5555" d="M196 165h22v1h-22zM407 387h2v1h-2zM405 388h3v1h-3zM403 389h2v1h-2zM401 390h2v1h-2zM399 391h2v1h-2zM396 393h2v1h-2zM394 394h2v1h-2zM392 395h2v1h-2zM390 396h2v1h-2zM388 397h2v1h-2zM385 399h2v1h-2zM383 400h2v1h-2zM381 401h2v1h-2zM379 402h2v1h-2zM376 404h2v1h-2zM374 405h2v1h-2zM372 406h2v1h-2zM369 407h3v1h-3zM368 408h2v1h-2zM365 409h3v1h-3zM359 410h6v1h-6zM354 411h5v1h-5zM349 412h5v1h-5zM343 413h6v1h-6zM338 414h5v1h-5zM333 415h5v1h-5zM327 416h6v1h-6zM322 417h5v1h-5zM318 418h4v1h-4zM314 419h4v1h-4zM310 420h4v1h-4zM306 421h4v1h-4zM301 422h5v1h-5zM297 423h4v1h-4zM293 424h4v1h-4zM289 425h4v1h-4zM285 426h4v1h-4zM279 427h6v1h-6zM273 428h6v1h-6zM267 429h6v1h-6zM261 430h6v1h-6zM255 431h6v1h-6zM249 432h6v1h-6zM243 433h6v1h-6zM238 434h5v1h-5zM232 435h6v1h-6zM227 436h5v1h-5zM222 437h5v1h-5zM216 438h6v1h-6zM211 439h5v1h-5zM206 440h5v1h-5zM200 441h6v1h-6zM176 442h24v1h-24zM70 443h106v1h-106zM68 441v1h1v-1zM68 445v1h1v-1zM69 442v1h1v-1zM69 444v1h1v-1zM71 442v1h1v-1zM71 444v1h1v-1zM72 441v1h1v-1zM72 445v1h1v-1zM110 441v1h1v-1zM110 445v1h1v-1zM111 442v1h1v-1zM111 444v1h1v-1zM113 442v1h1v-1zM113 444v1h1v-1zM114 441v1h1v-1zM114 445v1h1v-1zM153 441v1h1v-1zM153 445v1h1v-1zM154 442v1h1v-1zM154 444v1h1v-1zM156 442v1h1v-1zM156 444v1h1v-1zM157 441v1h1v-1zM157 445v1h1v-1zM195 440v1h1v-1zM195 444v1h1v-1zM196 441v1h1v-1zM196 443v1h1v-1zM198 441v1h1v-1zM198 443v1h1v-1zM199 440v1h1v-1zM199 444v1h1v-1zM201 163v1h1v-1zM201 167v1h1v-1zM202 164v1h1v-1zM202 166v1h1v-1zM204 164v1h1v-1zM204 166v1h1v-1zM205 163v1h1v-1zM205 167v1h1v-1zM238 432v1h1v-1zM238 436v1h1v-1zM239 433v1h1v-1zM239 435v1h1v-1zM241 433v1h1v-1zM241 435v1h1v-1zM242 432v1h1v-1zM242 436v1h1v-1zM280 425v1h1v-1zM280 429v1h1v-1zM281 426v1h1v-1zM281 428v1h1v-1zM283 426v1h1v-1zM283 428v1h1v-1zM284 425v1h1v-1zM284 429v1h1v-1zM322 415v1h1v-1zM322 419v1h1v-1zM323 416v1h1v-1zM323 418v1h1v-1zM325 416v1h1v-1zM325 418v1h1v-1zM326 415v1h1v-1zM326 419v1h1v-1zM365 407v1h1v-1zM365 411v1h1v-1zM366 408v1h1v-1zM366 410v1h1v-1zM368 410v1h1v-1zM369 411v1h1v-1zM378 403v1h1v-1zM387 398v1h1v-1zM398 392v1h1v-1zM407 384v1h1v-1zM408 385v1h1v-1zM409 386v1h1v-1zM410 385v1h1v-1zM410 387v1h1v-1zM411 384v1h1v-1zM411 388v1h1v-1z"/>
</svg>
</body></html>
